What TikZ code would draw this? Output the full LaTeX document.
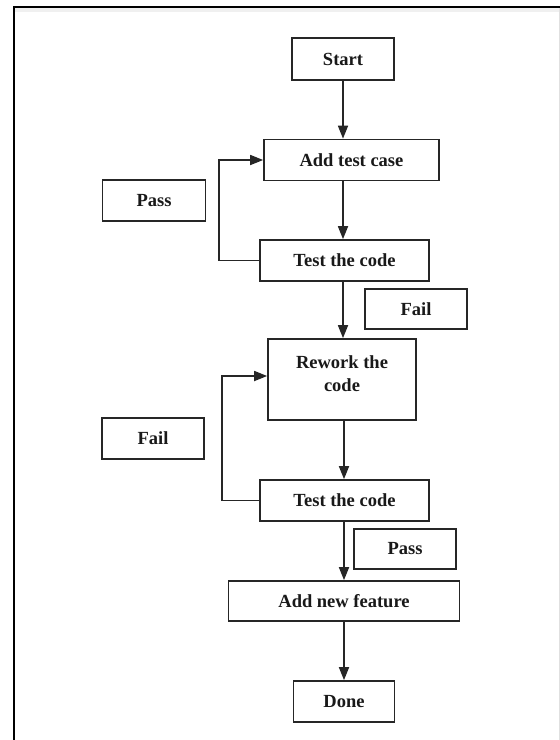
\documentclass[tikz,border=0pt]{standalone}
\usepackage{fontspec}
\setmainfont{Liberation Serif}
\usetikzlibrary{arrows.meta}
\begin{document}
\begin{tikzpicture}[x=1pt,y=-1pt,
  box/.style={draw=black!85,line width=1.7pt,rectangle,inner sep=0pt,align=center,
    font=\fontsize{18.5}{23}\selectfont\bfseries,text=black!90},
  conn/.style={draw=black!85,line width=1.7pt,-{Triangle[width=10pt,length=13pt]}}]
\useasboundingbox (0,0) rectangle (560,740);
\fill[white] (0,0) rectangle (560,740);
\fill[black!6] (14,7) rectangle (560,12);
\draw[line width=2pt] (13,6.5) -- (560,6.5);
\draw[line width=2pt] (13.5,6) -- (13.5,740);
\draw[black!12,line width=1pt] (559,8) -- (559,740);
\node[box,minimum width=102pt,minimum height=42pt] (start) at (343,59) {Start};
\node[box,minimum width=175pt,minimum height=41pt] (add) at (351.5,160) {Add test case};
\node[box,minimum width=103pt,minimum height=41pt] (pass1) at (154,200.5) {Pass};
\node[box,minimum width=169pt,minimum height=41pt] (test1) at (344.5,260.5) {Test the code};
\node[box,minimum width=102pt,minimum height=40pt] (fail1) at (416,309) {Fail};
\node[box,minimum width=148pt,minimum height=81pt,text depth=12pt] (rework) at (342,379.5) {Rework the\\code};
\node[box,minimum width=102pt,minimum height=41pt] (fail2) at (153,438.5) {Fail};
\node[box,minimum width=169pt,minimum height=41pt] (test2) at (344.5,500.5) {Test the code};
\node[box,minimum width=102pt,minimum height=40pt] (pass2) at (405,549) {Pass};
\node[box,minimum width=231pt,minimum height=40pt] (feature) at (344,601) {Add new feature};
\node[box,minimum width=101pt,minimum height=41pt] (done) at (344,701.5) {Done};
\draw[conn] (start.south) -- (start.south |- add.north);
\draw[conn] (add.south -| start.south) -- (start.south |- test1.north);
\draw[conn] (test1.south -| start.south) -- (start.south |- rework.north);
\draw[conn] (rework.south -| feature.north) -- (feature.north |- test2.north);
\draw[conn] (test2.south -| feature.north) -- (feature.north);
\draw[conn] (feature.south) -- (done.north);
\draw[conn] (test1.west) -- ++(-40,0) |- (add.west);
\draw[conn] (test2.west) -- ++(-37,0) |- ([yshift=3.5pt]rework.west);
\end{tikzpicture}
\end{document}
